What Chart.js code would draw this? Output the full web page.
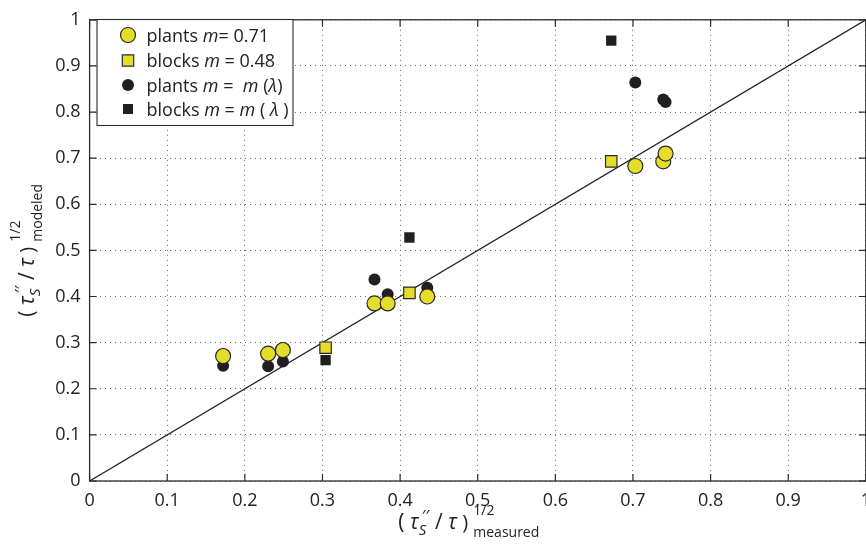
<!DOCTYPE html>
<html>
<head>
<meta charset="utf-8">
<title>modeled vs measured</title>
<script src="https://cdn.jsdelivr.net/npm/chart.js@4.4.1/dist/chart.umd.min.js"></script>
<style>
  html, body { margin: 0; padding: 0; background: #fff; overflow: hidden; }
  #wrap { width: 880px; height: 553px; }
</style>
</head>
<body>
<div id="wrap"><canvas id="myChart" width="880" height="553"></canvas></div>
<script>
// measured values (x) and modeled values (y)
var plantsMeasured = [0.172, 0.230, 0.249, 0.367, 0.384, 0.435, 0.703, 0.739, 0.742];
var plantsModeledConst = [0.271, 0.276, 0.284, 0.385, 0.385, 0.400, 0.683, 0.693, 0.710];
var plantsModeledLambda = [0.250, 0.249, 0.259, 0.437, 0.405, 0.419, 0.864, 0.827, 0.822];

var blocksMeasured = [0.304, 0.412, 0.672];
var blocksModeledConst = [0.289, 0.408, 0.693];
var blocksModeledLambda = [0.262, 0.528, 0.955];

var tickValues = [0, 0.1, 0.2, 0.3, 0.4, 0.5, 0.6, 0.7, 0.8, 0.9, 1];

var YELLOW = "#e6dc2a";
var DARK = "#231f20";
var FONT = "'Open Sans', sans-serif";

function pairs(xs, ys) {
    let out = [];
    for (let i = 0; i < xs.length; i++) {
        out.push({x: xs[i], y: ys[i]});
    }
    return out;
}

function fmtTick(v) {
    let r = Math.round(v * 10) / 10;
    return r === 0 ? "0" : (r === 1 ? "1" : r.toFixed(1));
}

/**
 * draws a run of text pieces one after the other,
 * a piece with sup/sub puts both at the same x
 */
function drawRich(ctx, x, y, parts) {
    let cx = x;
    for (let p of parts) {
        if (p.sup !== undefined) {
            ctx.font = p.supFont;
            let w1 = ctx.measureText(p.sup).width;
            ctx.fillText(p.sup, cx + (p.supShift || 0), y + p.supDy);
            ctx.font = p.subFont;
            let w2 = ctx.measureText(p.sub).width;
            ctx.fillText(p.sub, cx, y + p.subDy);
            cx += Math.max(w1 + (p.supShift || 0), w2);
        } else {
            ctx.font = p.font;
            ctx.fillText(p.t, cx, y + (p.dy || 0));
            cx += ctx.measureText(p.t).width;
        }
    }
    return cx - x;
}

function richWidth(ctx, parts) {
    let w = 0;
    for (let p of parts) {
        if (p.sup !== undefined) {
            ctx.font = p.supFont;
            let w1 = ctx.measureText(p.sup).width + (p.supShift || 0);
            ctx.font = p.subFont;
            let w2 = ctx.measureText(p.sub).width;
            w += Math.max(w1, w2);
        } else {
            ctx.font = p.font;
            w += ctx.measureText(p.t).width;
        }
    }
    return w;
}

function titleParts(word) {
    let main = "21px " + FONT;
    let ital = "italic 21px " + FONT;
    return [
        {t: "( ", font: main},
        {t: "\u03c4", font: ital},
        {sup: "\u2032\u2032", supFont: "17px " + FONT, supDy: -7, supShift: 3,
         sub: "S", subFont: "italic 15px " + FONT, subDy: 6},
        {t: " / ", font: main},
        {t: "\u03c4", font: ital},
        {t: " ) ", font: "20px " + FONT},
        {sup: "1/2", supFont: "14px " + FONT, supDy: -14,
         sub: word, subFont: "14px " + FONT, subDy: 8}
    ];
}

// legend rows: marker + text pieces
var legendRows = [
    {shape: "circle", fill: YELLOW, r: 7.5, parts: [["plants ", false], ["m", true], ["= 0.71", false]]},
    {shape: "rect", fill: YELLOW, r: 5.7, parts: [["blocks ", false], ["m", true], [" = 0.48", false]]},
    {shape: "circle", fill: DARK, r: 6, parts: [["plants ", false], ["m", true], [" =  ", false], ["m", true], [" (", false], ["\u03bb", true], [")", false]]},
    {shape: "rect", fill: DARK, r: 5, parts: [["blocks ", false], ["m", true], [" = ", false], ["m", true], [" ( ", false], ["\u03bb", true], [" )", false]]}
];

var framePlugin = {
    id: "frame",
    afterDraw(chart) {
        let ctx = chart.ctx;
        let a = chart.chartArea;
        let xs = chart.scales.x;
        let ys = chart.scales.y;
        ctx.save();
        // box round the plot
        ctx.strokeStyle = "#2b2b2b";
        ctx.lineWidth = 1.3;
        ctx.strokeRect(a.left, a.top, a.right - a.left, a.bottom - a.top);
        // inward ticks on all four sides
        ctx.lineWidth = 1.2;
        ctx.beginPath();
        for (let v of tickValues) {
            let px = xs.getPixelForValue(v);
            ctx.moveTo(px, a.bottom); ctx.lineTo(px, a.bottom - 7);
            ctx.moveTo(px, a.top); ctx.lineTo(px, a.top + 7);
            let py = ys.getPixelForValue(v);
            ctx.moveTo(a.left, py); ctx.lineTo(a.left + 7, py);
            ctx.moveTo(a.right, py); ctx.lineTo(a.right - 7, py);
        }
        ctx.stroke();

        // axis titles
        ctx.fillStyle = "#222";
        ctx.textBaseline = "alphabetic";
        ctx.textAlign = "left";
        let xp = titleParts("measured");
        let xw = richWidth(ctx, xp);
        let xc = (a.left + a.right) / 2 - 9;
        drawRich(ctx, xc - xw / 2, 529, xp);

        let yp = titleParts("modeled");
        let yw = richWidth(ctx, yp);
        let yc = (a.top + a.bottom) / 2;
        ctx.save();
        ctx.translate(34, yc);
        ctx.rotate(-Math.PI / 2);
        drawRich(ctx, -yw / 2, 0, yp);
        ctx.restore();

        // legend
        let lx = 97, ly = 19.5, lw = 196, lh = 106;
        ctx.fillStyle = "#fff";
        ctx.fillRect(lx, ly, lw, lh);
        ctx.strokeStyle = "#2b2b2b";
        ctx.lineWidth = 1.1;
        ctx.strokeRect(lx, ly, lw, lh);
        let rowY = [35, 60.5, 85, 109];
        legendRows.forEach((row, i) => {
            let cy = rowY[i];
            ctx.fillStyle = row.fill;
            ctx.strokeStyle = "#2a2a2a";
            ctx.lineWidth = 1.2;
            ctx.beginPath();
            if (row.shape === "circle") {
                ctx.arc(128, cy, row.r, 0, Math.PI * 2);
            } else {
                ctx.rect(128 - row.r, cy - row.r, row.r * 2, row.r * 2);
            }
            ctx.fill();
            if (row.fill === YELLOW) ctx.stroke();
            ctx.fillStyle = "#222";
            let tx = 146.5;
            for (let [t, it] of row.parts) {
                ctx.font = (it ? "italic " : "") + "18px " + FONT;
                ctx.fillText(t, tx, cy + 6.5);
                tx += ctx.measureText(t).width;
            }
        });
        ctx.restore();
    }
};

var data = {
    datasets: [
        {
            label: "plants m = 0.71",
            data: pairs(plantsMeasured, plantsModeledConst),
            pointStyle: "circle",
            pointRadius: 7.5,
            backgroundColor: YELLOW,
            borderColor: "#2a2a2a",
            borderWidth: 1.2,
            order: 1
        },
        {
            label: "blocks m = 0.48",
            data: pairs(blocksMeasured, blocksModeledConst),
            pointStyle: "rect",
            pointRadius: 8.1,
            backgroundColor: YELLOW,
            borderColor: "#2a2a2a",
            borderWidth: 1.2,
            order: 2
        },
        {
            label: "plants m = m(λ)",
            data: pairs(plantsMeasured, plantsModeledLambda),
            pointStyle: "circle",
            pointRadius: 6,
            backgroundColor: DARK,
            borderColor: DARK,
            borderWidth: 0,
            order: 3
        },
        {
            label: "blocks m = m(λ)",
            data: pairs(blocksMeasured, blocksModeledLambda),
            pointStyle: "rect",
            pointRadius: 7.3,
            backgroundColor: DARK,
            borderColor: DARK,
            borderWidth: 0,
            order: 4
        },
        {
            type: "line",
            label: "1:1",
            data: [{x: 0, y: 0}, {x: 1, y: 1}],
            borderColor: "#222",
            borderWidth: 1.3,
            pointRadius: 0,
            fill: false,
            order: 5
        }
    ]
};

var axisCommon = {
    type: "linear",
    min: 0,
    max: 1,
    grid: {
        color: "#666",
        lineWidth: 1,
        drawTicks: false
    },
    border: {
        display: false,
        dash: [1, 4]
    },
    ticks: {
        stepSize: 0.1,
        padding: 9,
        color: "#222",
        font: {family: FONT, size: 18},
        callback: v => fmtTick(v)
    }
};

var config = {
    type: "scatter",
    data: data,
    options: {
        responsive: false,
        animation: false,
        layout: {
            padding: {top: 13, right: 11.5, bottom: 0, left: 0}
        },
        plugins: {
            legend: {display: false},
            tooltip: {enabled: false}
        },
        scales: {
            x: Object.assign({}, axisCommon, {
                afterFit: scale => { scale.height = 72; }
            }),
            y: Object.assign({}, axisCommon, {
                afterFit: scale => { scale.width = 89.6; }
            })
        }
    },
    plugins: [framePlugin]
};

var myChart = new Chart(document.getElementById("myChart"), config);
</script>
</body>
</html>
